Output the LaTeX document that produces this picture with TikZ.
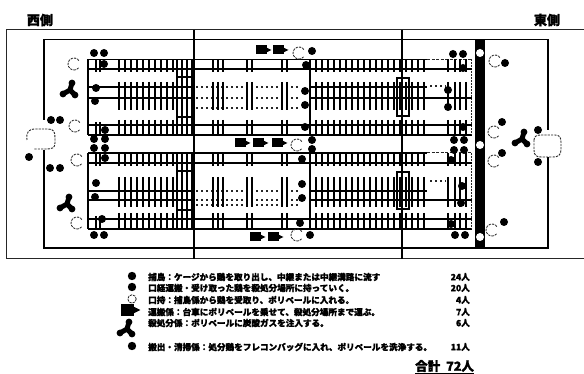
\documentclass[tikz,border=0pt]{standalone}
\usepackage{fontspec}
\setmainfont[BoldFeatures={FakeBold=1.5}]{Noto Sans CJK JP}
\tikzset{
  frameline/.style={line width=1pt,black!85},
  heavyline/.style={line width=1.4pt,black},
  hatch/.style={line width=1.9pt,black},
  dotrow/.style={line width=1.6pt,black!85,dash pattern=on 1.6pt off 3.4pt},
  thinrow/.style={line width=1pt,black!85},
  fc/.style={fill=black},
  oc/.style={line width=0.8pt,black!85,dash pattern=on 2.4pt off 1pt},
  tank/.style={line width=0.9pt,black!85,dash pattern=on 2.2pt off 1.1pt},
  legend/.style={anchor=west,inner sep=0pt,font=\fontsize{8.6}{10}\selectfont\bfseries},
  count/.style={anchor=east,inner sep=0pt,font=\fontsize{8.6}{10}\selectfont\bfseries},
  head/.style={inner sep=0pt,font=\fontsize{13}{15}\selectfont\bfseries}
}
% disc
\newcommand{\dsc}[2]{\fill[fc] (#1,#2) circle (4);}
% open dashed circle, C-shaped
\newcommand{\opn}[2]{\draw[oc] (#1,#2) ++(40:6) arc[start angle=40,end angle=330,radius=6];}
% three-lobed figure
\newcommand{\trefoil}[2]{\begin{scope}[shift={(#1,#2)}]
  \draw[line width=5pt,line cap=round] (0,0) -- (2,-7) (0,0) -- (-7,4) (0,0) -- (5,5);
  \fill (2,-7) circle (3.4) (-7,4) circle (3.4) (5,5) circle (3.4);
  \end{scope}}
% cart: left x, centre y, scale
\newcommand{\cart}[3]{\begin{scope}[shift={(#1,#2)},scale=#3]
  \fill (0,-4.5) rectangle (10.5,4.5);
  \fill (9,-3.2) -- (15.5,0) -- (9,3.2) -- cycle;
  \end{scope}}
% cage block: #1 top, #2 first rule, #3 #4 middle rules, #5 last rule, #6 bottom
% #7 #8 middle hatch range, #9 lower hatch start
\newcommand{\cage}[9]{
  \draw[heavyline] (88,#1) -- (427,#1);
  \draw[thinrow,dash pattern=on 3pt off 1.5pt] (427,#1) -- (472,#1);
  \draw[heavyline] (88,#6) -- (472,#6);
  \draw[heavyline] (88,#1) -- (88,#6);
  \draw[thinrow,dash pattern=on 2pt off 1pt] (471.5,#1) -- (471.5,#6);
  \draw[heavyline] (88,#2) -- (472,#2);
  \draw[heavyline] (88,#5) -- (472,#5);
  \draw[heavyline] (88,#3) -- (194,#3) (310,#3) -- (427,#3);
  \draw[heavyline] (88,#4) -- (194,#4) (310,#4) -- (472,#4);
  \draw[dotrow] (196,#3) -- (300,#3);
  \draw[dotrow] (196,#4) -- (300,#4);
  \draw[dotrow] (196,#8-2) -- (300,#8-2);
  \foreach \v in {96,100}{\draw[line width=1.2pt] (\v,#1) -- (\v,#2+3) (\v,#5-3) -- (\v,#6);}
  % left hatch
  \foreach \v in {119,125,...,173}{
    \draw[hatch] (\v,#1) -- (\v,#2+3) (\v,#7) -- (\v,#8) (\v,#9) -- (\v,#6);}
  \foreach \v in {177,182,187,192}{\draw[line width=1.6pt] (\v,#1) -- (\v,#6);}
  \draw[line width=1.2pt] (177,#2+8) -- (194,#2+8) (177,#9-3) -- (194,#9-3);
  % middle hatch clusters
  \foreach \v in {213,218,223,247,252,282,287}{
    \draw[hatch] (\v,#1) -- (\v,#2+3) (\v,#7) -- (\v,#8) (\v,#9) -- (\v,#6);}
  \draw[line width=1.8pt] (310,#1) -- (310,#6);
  % right hatch
  \foreach \v in {316,322,...,424}{
    \draw[hatch] (\v,#1) -- (\v,#2+3) (\v,#7) -- (\v,#8) (\v,#9) -- (\v,#6);}
  \foreach \v in {448,455,460,466}{
    \draw[hatch] (\v,#1) -- (\v,#2+3) (\v,#7) -- (\v,#8) (\v,#9) -- (\v,#6);}
  \draw[line width=1.2pt] (397,#2+9) rectangle (409,#9-4);
  \draw[dotrow] (430,#7+4) -- (446,#7+4);
}
\begin{document}
\begin{tikzpicture}[x=1pt,y=-1pt]
\useasboundingbox (0,0) rectangle (584,374);
\fill[white] (0,0) rectangle (584,374);
% outer frame
\draw[frameline] (584,30) -- (6.5,30) -- (6.5,259) -- (584,259);
\draw[heavyline] (194,30) -- (194,259);
\draw[heavyline] (402,30) -- (402,259);
% inner frame
\draw[heavyline] (44,120) -- (44,39.5) -- (548,39.5) -- (548,130);
\draw[heavyline] (44,150) -- (44,248) -- (548,248) -- (548,157);
% cage blocks
\cage{59.5}{69}{87}{98}{125}{135}{82}{110}{120}
\cage{153}{163}{191}{200}{219}{229}{177}{207}{213}
% dark bar
\fill[black] (475,40) rectangle (485,248);
\foreach \p in {53,145,237}{\fill[white] (480,\p) circle (4);}
% tanks
\draw[tank] (27,140) .. controls (26,131) and (29,129) .. (36,129) -- (48,129) .. controls (54,129) and (55,132) .. (55,138) -- (55,143) .. controls (55,148) and (52,149) .. (46,149) -- (34,149);
\draw[tank] (534,140) .. controls (534,136) and (537,135) .. (541,135) -- (555,135) .. controls (560,135) and (561,138) .. (561,142) -- (561,150) .. controls (561,155) and (558,157) .. (553,157) -- (541,157) .. controls (536,157) and (534,155) .. (534,150) -- cycle;
% open circles
\foreach \a/\b in {74/64,75/126,77/160,77/223,299/53,297/145,297/235,495/61,494/132,494/161,492/230}{\opn{\a}{\b}}
% discs
\foreach \a/\b in {94/53,104/53,104/64,96/88,95/101,51/120,60/120,29/157,50/168,60/168,
  94/139,105/139,94/148,105/148,105/130,105/158,96/183,95/197,102/219,94/235,104/235,
  312/51,306/65,305/91,305/105,305/127,312/140,312/149,302/159,302/184,302/198,300/223,310/235,
  453/54,463/54,463/68,448/90,448/107,463/127,454/140,464/140,454/150,464/150,451/160,462/186,461/203,451/224,455/235,465/235,
  505/63,502/122,538/130,538/162,502/153,504/222}{\dsc{\a}{\b}}
% trefoils
\trefoil{70}{90}
\trefoil{67}{204}
\trefoil{522}{139}
% carts
\cart{256}{50}{1}\cart{273}{50}{1}
\cart{235}{143}{1}\cart{253}{143}{1}\cart{272}{143}{1}
\cart{250}{237}{1}\cart{268}{237}{1}
% headings
\node[head] (west) at (40,20) {西側};
\node[head] (east) at (547,20) {東側};
% legend symbols
\fill[fc] (132,276) circle (4.2);
\fill[fc] (132,287) circle (4.2);
\draw[oc] (132,299) circle (4.2);
\cart{121}{310}{1.25}
\trefoil{127}{329}
\fill[fc] (132,346) circle (4.2);
% legend
\node[legend] (l1) at (148,277) {捕鳥：ケージから鶏を取り出し、中継または中継溝路に流す};
\node[legend] (l2) at (148,288) {口経運搬・受け取った鶏を殺処分場所に持っていく。};
\node[legend] (l3) at (148,300) {口持：捕鳥係から鶏を受取り、ポリペールに入れる。};
\node[legend] (l4) at (148,312) {運搬係：台車にポリペールを乗せて、殺処分場所まで運ぶ。};
\node[legend] (l5) at (148,323) {殺処分係：ポリペールに炭酸ガスを注入する。};
\node[legend] (l6) at (148,347) {搬出・清掃係：処分鶏をフレコンバッグに入れ、ポリペールを洗浄する。};
\node[count] (c1) at (470,277) {24人};
\node[count] (c2) at (470,288) {20人};
\node[count] (c3) at (470,300) {4人};
\node[count] (c4) at (470,312) {7人};
\node[count] (c5) at (470,323) {6人};
\node[count] (c6) at (470,347) {11人};
\node[inner sep=0pt,anchor=west,font=\fontsize{12.5}{14}\selectfont\bfseries] (total) at (415,367) {\underline{合計\hspace{6pt}72人}};
\end{tikzpicture}
\end{document}
